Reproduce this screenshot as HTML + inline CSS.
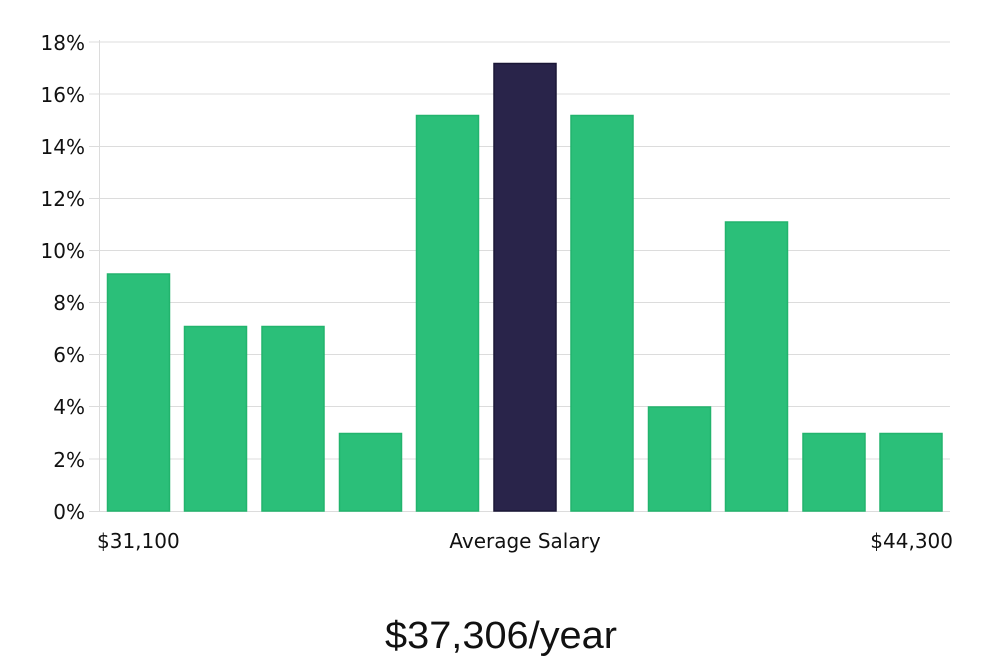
<!DOCTYPE html>
<html><head><style>body{margin:0;background:#fff}</style></head><body>
<svg width="1000" height="660" xmlns="http://www.w3.org/2000/svg" font-family="DejaVu Sans, sans-serif">
<g stroke="#dcdcdc" stroke-width="1">
<line x1="89" x2="950" y1="42" y2="42"/><line x1="89" x2="950" y1="94" y2="94"/>
<line x1="89" x2="950" y1="146.5" y2="146.5"/><line x1="89" x2="950" y1="198.5" y2="198.5"/>
<line x1="89" x2="950" y1="250.5" y2="250.5"/><line x1="89" x2="950" y1="302.5" y2="302.5"/>
<line x1="89" x2="950" y1="354.5" y2="354.5"/><line x1="89" x2="950" y1="406.5" y2="406.5"/>
<line x1="89" x2="950" y1="459" y2="459"/><line x1="89" x2="950" y1="511.5" y2="511.5"/>
<line x1="99.5" x2="99.5" y1="40" y2="512"/>
</g>
<g font-size="20" fill="#111" text-anchor="end">
<text x="85" y="50">18%</text><text x="85" y="102">16%</text><text x="85" y="154">14%</text>
<text x="85" y="206">12%</text><text x="85" y="258">10%</text><text x="85" y="310">8%</text>
<text x="85" y="362">6%</text><text x="85" y="414">4%</text><text x="85" y="467">2%</text>
<text x="85" y="519">0%</text>
</g>
<g fill="#2bbf79" stroke="#22b46d" stroke-width="1.5">
<rect x="107.5" y="274" width="62" height="237"/>
<rect x="184.5" y="326.5" width="62" height="184.5"/>
<rect x="262" y="326.5" width="62" height="184.5"/>
<rect x="339.5" y="433.5" width="62" height="77.5"/>
<rect x="416.5" y="115.5" width="62" height="395.5"/>
<rect x="571" y="115.5" width="62" height="395.5"/>
<rect x="648.5" y="407" width="62" height="104"/>
<rect x="725.5" y="222" width="62" height="289"/>
<rect x="803" y="433.5" width="62" height="77.5"/>
<rect x="880" y="433.5" width="62" height="77.5"/>
</g>
<rect x="494" y="63.5" width="62" height="447.5" fill="#29244a" stroke="#1a1636" stroke-width="1.5"/>
<g font-size="20" fill="#111">
<text x="97" y="548">$31,100</text>
<text x="525" y="548" text-anchor="middle">Average Salary</text>
<text x="953" y="548" text-anchor="end">$44,300</text>
</g>
<text x="385" y="648" font-size="38" textLength="232" lengthAdjust="spacingAndGlyphs" fill="#111" font-family="Liberation Sans, sans-serif">$37,306/year</text>
</svg>
</body></html>
